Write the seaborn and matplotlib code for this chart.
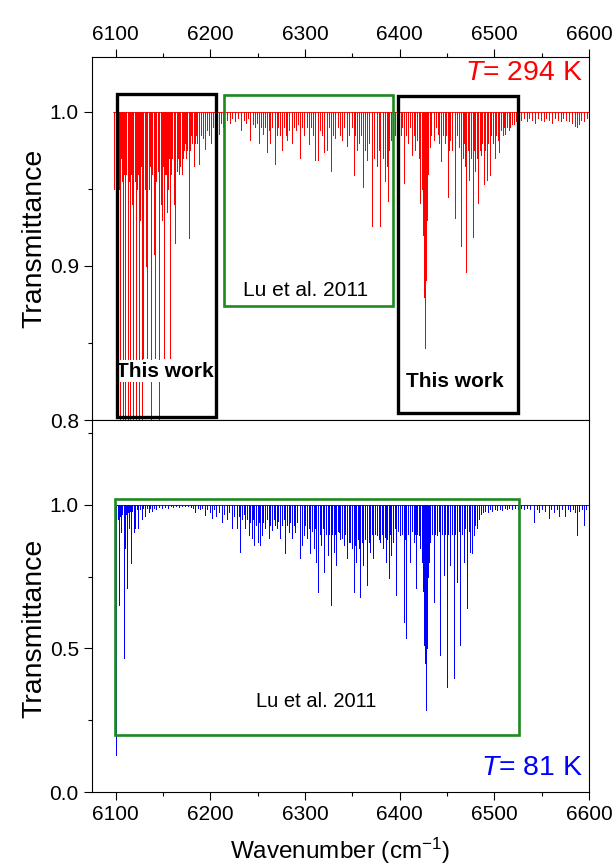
import numpy as np
import pandas as pd
import matplotlib
matplotlib.use("Agg")
import matplotlib.pyplot as plt
import seaborn as sns
from matplotlib.patches import Rectangle
from matplotlib.ticker import MultipleLocator, FormatStrFormatter

# ---------------- data ----------------
# T = 294 K : line centre (cm-1) and transmittance at line centre
wn_294 = [6098.0, 6101.2, 6102.2, 6103.2, 6104.1, 6105.3, 6106.3, 6107.3, 6108.1, 6108.9,
          6110.2, 6111.4, 6112.5, 6113.2, 6114.0, 6115.4, 6116.2, 6117.0, 6118.3, 6119.9,
          6120.6, 6121.4, 6122.7, 6123.5, 6124.2, 6126.0, 6126.9, 6127.8, 6128.6, 6129.3,
          6130.9, 6131.9, 6132.6, 6133.4, 6134.9, 6135.9, 6137.3, 6138.5, 6140.0, 6140.8,
          6141.6, 6143.1, 6144.4, 6146.1, 6147.5, 6148.2, 6148.7, 6149.8, 6150.8, 6152.3,
          6153.0, 6153.8, 6155.4, 6156.1, 6156.9, 6157.9, 6158.9, 6159.9, 6161.2, 6162.0,
          6163.1, 6164.6, 6165.6, 6166.5, 6167.3, 6168.2, 6170.0, 6171.2, 6172.3, 6173.3,
          6174.3, 6175.6, 6177.1, 6178.0, 6178.9, 6179.6, 6180.4, 6182.3, 6183.5, 6184.5,
          6186.4, 6188.3, 6190.2, 6192.2, 6194.7, 6196.8, 6198.9, 6200.9, 6203.0, 6205.0,
          6207.0, 6209.1, 6211.1, 6213.2,
          6217.3, 6220.3, 6223.4, 6226.5, 6229.5, 6232.4, 6235.2, 6237.7, 6239.8, 6242.2,
          6244.9, 6247.4, 6249.3, 6251.0, 6253.4, 6255.6, 6257.7, 6259.8, 6261.8, 6263.4,
          6265.6, 6267.9, 6269.9, 6272.0, 6273.8, 6275.7, 6277.8, 6279.5, 6281.0, 6283.6,
          6286.2, 6288.4, 6290.4, 6292.8, 6295.0, 6297.1, 6299.3, 6301.7, 6303.8, 6306.3,
          6308.6, 6310.9, 6313.3, 6315.5, 6317.8, 6320.4, 6323.2, 6325.5, 6327.8, 6329.8,
          6332.0, 6334.4, 6336.9, 6339.1, 6341.5, 6344.4, 6346.7, 6349.2, 6351.5, 6353.3,
          6354.9, 6357.4, 6359.2, 6361.3, 6363.5, 6365.6, 6368.1, 6370.8, 6373.3, 6376.1,
          6377.9, 6379.6, 6381.9, 6384.9, 6386.6, 6387.7, 6389.1, 6390.6, 6392.7, 6394.7,
          6396.8,
          6398.8, 6400.9, 6402.9, 6405.0, 6407.0, 6409.1, 6411.1, 6413.0, 6415.2, 6416.7,
          6418.4, 6420.1, 6421.8, 6423.4, 6424.4, 6425.4, 6426.4, 6427.9, 6429.0, 6430.2,
          6431.7, 6433.6, 6436.0, 6438.0, 6440.1, 6442.0, 6443.7, 6445.7, 6447.4, 6449.2,
          6451.1, 6452.5, 6453.5, 6455.8, 6458.1, 6460.2, 6462.3, 6464.8, 6466.8, 6467.7,
          6469.1, 6470.4, 6472.0, 6473.6, 6475.5, 6477.2, 6478.6, 6479.9, 6481.5, 6482.8,
          6484.4, 6486.0, 6487.3, 6488.7, 6490.6, 6492.3, 6493.7, 6495.1, 6497.0, 6498.8,
          6500.4, 6502.1, 6503.7, 6505.3, 6507.2, 6508.8, 6510.3, 6511.6, 6513.4, 6515.1,
          6517.0, 6518.8, 6520.4, 6522.6, 6524.6,
          6528.0, 6531.0, 6534.0, 6537.0, 6540.0, 6543.0, 6546.0, 6549.0, 6552.0, 6555.0,
          6558.0, 6561.0, 6564.0, 6567.0, 6570.0, 6573.0, 6576.0, 6579.0, 6582.0, 6585.0,
          6587.5, 6589.5, 6592.0, 6595.0, 6598.0]
tr_294 = [0.950, 0.930, 0.960, 0.950, 0.780, 0.970, 0.955, 0.780, 0.965, 0.960,
          0.780, 0.960, 0.780, 0.950, 0.955, 0.780, 0.960, 0.940, 0.780, 0.960,
          0.955, 0.780, 0.950, 0.960, 0.780, 0.930, 0.965, 0.780, 0.960, 0.840,
          0.950, 0.900, 0.955, 0.840, 0.950, 0.965, 0.780, 0.960, 0.908, 0.970,
          0.840, 0.955, 0.962, 0.780, 0.940, 0.960, 0.930, 0.965, 0.840, 0.960,
          0.960, 0.935, 0.950, 0.970, 0.840, 0.955, 0.960, 0.970, 0.940, 0.960,
          0.915, 0.962, 0.970, 0.960, 0.975, 0.965, 0.960, 0.970, 0.975, 0.980,
          0.970, 0.975, 0.918, 0.980, 0.975, 0.985, 0.980, 0.965, 0.980, 0.985,
          0.980, 0.966, 0.985, 0.983, 0.976, 0.988, 0.985, 0.980, 0.990, 0.985,
          0.990, 0.986, 0.993, 0.990,
          0.995, 0.993, 0.996, 0.994, 0.996, 0.988, 0.995, 0.993, 0.996, 0.982,
          0.992, 0.990, 0.993, 0.980, 0.990, 0.986, 0.990, 0.974, 0.988, 0.980,
          0.990, 0.966, 0.985, 0.990, 0.985, 0.975, 0.990, 0.985, 0.982, 0.988,
          0.980, 0.990, 0.988, 0.992, 0.970, 0.990, 0.985, 0.990, 0.979, 0.990,
          0.985, 0.969, 0.969, 0.988, 0.985, 0.974, 0.975, 0.990, 0.962, 0.985,
          0.983, 0.990, 0.985, 0.982, 0.990, 0.978, 0.985, 0.990, 0.959, 0.985,
          0.975, 0.980, 0.985, 0.951, 0.975, 0.969, 0.980, 0.926, 0.970, 0.965,
          0.975, 0.926, 0.970, 0.955, 0.965, 0.942, 0.975, 0.982, 0.975, 0.985,
          0.980,
          0.990, 0.985, 0.990, 0.954, 0.985, 0.980, 0.990, 0.972, 0.985, 0.975,
          0.982, 0.970, 0.941, 0.950, 0.920, 0.880, 0.847, 0.891, 0.930, 0.960,
          0.977, 0.985, 0.982, 0.990, 0.986, 0.980, 0.968, 0.985, 0.980, 0.985,
          0.945, 0.975, 0.982, 0.975, 0.931, 0.985, 0.977, 0.913, 0.970, 0.980,
          0.965, 0.896, 0.975, 0.956, 0.970, 0.919, 0.975, 0.962, 0.970, 0.941,
          0.975, 0.972, 0.980, 0.953, 0.975, 0.956, 0.980, 0.959, 0.985, 0.980,
          0.970, 0.985, 0.982, 0.974, 0.988, 0.985, 0.990, 0.986, 0.990, 0.988,
          0.990, 0.992, 0.992, 0.994, 0.993,
          0.995, 0.996, 0.994, 0.996, 0.995, 0.993, 0.996, 0.995, 0.994, 0.996,
          0.995, 0.993, 0.996, 0.995, 0.994, 0.996, 0.995, 0.994, 0.993, 0.991,
          0.990, 0.992, 0.995, 0.994, 0.996]

# T = 81 K
wn_81 = [6100.7, 6102.2, 6103.8, 6105.0, 6105.9, 6107.1, 6108.3, 6109.4, 6110.2, 6111.2,
         6112.2, 6113.4, 6114.4, 6115.2, 6116.1, 6117.5, 6118.9, 6120.7, 6122.2, 6123.6,
         6125.7, 6127.8, 6129.3, 6131.3, 6132.9, 6134.7, 6136.5, 6138.3, 6140.6, 6142.6,
         6145.7, 6148.7, 6151.8, 6154.9, 6158.0, 6161.0, 6164.1, 6167.2, 6170.2, 6173.3,
         6176.4, 6179.4, 6182.0, 6184.1, 6186.6, 6189.1, 6191.7, 6194.7, 6196.8, 6199.4,
         6201.7, 6204.0, 6206.5, 6209.1, 6212.4, 6214.7, 6217.3, 6219.8, 6222.9, 6225.5,
         6228.2, 6230.1, 6231.7, 6233.6, 6235.2, 6236.9, 6238.8, 6240.5, 6242.3, 6244.0,
         6245.2, 6246.4, 6248.5, 6250.3, 6251.5, 6252.8, 6254.5, 6256.1, 6258.1, 6259.7,
         6261.6, 6263.3, 6265.1, 6266.9, 6268.4, 6270.4, 6272.0, 6273.9, 6275.6, 6277.4,
         6279.3, 6281.0, 6282.7, 6284.6, 6286.3, 6288.1, 6289.8, 6291.9, 6294.4, 6296.8,
         6298.6, 6300.3, 6302.2, 6303.9, 6305.6, 6307.3, 6309.1, 6310.6, 6312.0, 6313.7,
         6315.5, 6316.9, 6318.5, 6320.4, 6322.1, 6324.0, 6325.7, 6327.4, 6328.8, 6330.3,
         6331.8, 6333.1, 6334.4, 6335.5, 6337.2, 6339.1, 6341.0, 6342.6, 6344.4, 6346.1,
         6347.9, 6349.7, 6351.5, 6352.8, 6354.2, 6355.9, 6357.4, 6358.4, 6360.0, 6361.3,
         6363.3, 6365.5, 6367.1, 6369.1, 6370.5, 6371.8, 6373.8, 6376.1, 6377.9, 6379.6,
         6380.9, 6382.5, 6384.0, 6385.9, 6387.1, 6388.4, 6389.6, 6390.8, 6393.0, 6394.7,
         6396.5, 6398.3, 6400.8, 6402.4, 6404.2, 6405.7, 6407.1, 6409.1, 6411.3, 6413.1,
         6414.8, 6416.2, 6417.6, 6418.8, 6420.1, 6421.8, 6423.7, 6424.7, 6425.4, 6426.0,
         6426.9, 6427.9, 6428.8, 6429.7, 6430.6, 6432.4, 6434.1, 6436.0, 6437.7, 6439.5,
         6441.3, 6443.0, 6444.9, 6446.5, 6448.4, 6450.1, 6451.5, 6452.8, 6455.1, 6457.0,
         6458.7, 6460.6, 6462.2, 6464.1, 6465.8, 6467.7, 6469.4, 6471.2, 6473.0, 6474.7,
         6476.5, 6478.3, 6480.1, 6481.8, 6483.7, 6485.8, 6487.8, 6490.4, 6492.9, 6495.5,
         6498.0, 6500.6, 6503.2, 6505.7, 6508.3, 6510.8, 6513.4, 6515.9, 6519.0, 6522.1,
         6525.1, 6528.2, 6531.3, 6534.3, 6537.4, 6541.5, 6544.6, 6547.6, 6550.7, 6553.8,
         6557.5, 6559.9, 6563.0, 6566.1, 6568.1, 6571.2, 6574.2, 6577.3, 6580.4, 6583.4,
         6585.5, 6587.5, 6589.6, 6592.1, 6594.4, 6596.7, 6599.8]
tr_81 = [0.129, 0.950, 0.652, 0.960, 0.907, 0.970, 0.466, 0.975, 0.849, 0.970,
         0.710, 0.975, 0.919, 0.980, 0.797, 0.980, 0.907, 0.919, 0.985, 0.919,
         0.985, 0.950, 0.990, 0.960, 0.990, 0.975, 0.990, 0.980, 0.990, 0.985,
         0.992, 0.988, 0.994, 0.990, 0.995, 0.993, 0.996, 0.994, 0.996, 0.995,
         0.996, 0.994, 0.990, 0.977, 0.990, 0.985, 0.990, 0.965, 0.985, 0.975,
         0.954, 0.985, 0.960, 0.975, 0.942, 0.970, 0.950, 0.975, 0.919, 0.960,
         0.919, 0.960, 0.837, 0.950, 0.970, 0.919, 0.950, 0.895, 0.940, 0.884,
         0.950, 0.861, 0.930, 0.872, 0.940, 0.861, 0.895, 0.940, 0.919, 0.950,
         0.884, 0.930, 0.913, 0.950, 0.930, 0.919, 0.945, 0.884, 0.930, 0.950,
         0.832, 0.930, 0.907, 0.940, 0.884, 0.930, 0.907, 0.940, 0.814, 0.861,
         0.895, 0.930, 0.884, 0.920, 0.832, 0.910, 0.849, 0.920, 0.803, 0.698,
         0.900, 0.861, 0.920, 0.768, 0.900, 0.826, 0.900, 0.652, 0.900, 0.837,
         0.900, 0.791, 0.910, 0.907, 0.880, 0.884, 0.860, 0.900, 0.814, 0.870,
         0.872, 0.850, 0.698, 0.860, 0.803, 0.880, 0.850, 0.681, 0.870, 0.791,
         0.880, 0.721, 0.870, 0.837, 0.900, 0.814, 0.900, 0.895, 0.880, 0.872,
         0.900, 0.849, 0.890, 0.803, 0.880, 0.745, 0.900, 0.826, 0.872, 0.920,
         0.687, 0.910, 0.895, 0.900, 0.594, 0.880, 0.536, 0.900, 0.803, 0.910,
         0.872, 0.900, 0.710, 0.900, 0.895, 0.850, 0.803, 0.700, 0.600, 0.512,
         0.450, 0.286, 0.500, 0.750, 0.803, 0.872, 0.900, 0.663, 0.900, 0.895,
         0.910, 0.477, 0.900, 0.756, 0.900, 0.367, 0.900, 0.791, 0.900, 0.396,
         0.900, 0.733, 0.910, 0.512, 0.900, 0.803, 0.920, 0.640, 0.910, 0.837,
         0.833, 0.895, 0.930, 0.919, 0.950, 0.970, 0.975, 0.980, 0.975, 0.985,
         0.980, 0.985, 0.982, 0.985, 0.983, 0.988, 0.985, 0.990, 0.985, 0.990,
         0.987, 0.990, 0.985, 0.990, 0.985, 0.942, 0.985, 0.975, 0.985, 0.980,
         0.954, 0.985, 0.975, 0.985, 0.960, 0.985, 0.960, 0.985, 0.980, 0.985,
         0.975, 0.895, 0.980, 0.985, 0.930, 0.985, 0.980]

x_ticks = [6100, 6200, 6300, 6400, 6500, 6600]
y_ticks_294 = [0.8, 0.9, 1.0]
y_ticks_81 = [0.0, 0.5, 1.0]
temp_labels = ["$T$= 294 K", "$T$= 81 K"]


def stick_frame(wn, tr, start):
    """Stick spectrum polyline: baseline 1.0, dip to the line-centre value."""
    order = np.argsort(wn)
    xs, ys = [start], [1.0]
    for i in order:
        xs += [wn[i], wn[i], wn[i]]
        ys += [1.0, tr[i], 1.0]
    xs.append(6600.0)
    ys.append(1.0)
    return pd.DataFrame({"wn": xs, "T": ys})


sns.set_theme(style="ticks")
plt.rcParams["font.family"] = ["Liberation Sans", "DejaVu Sans"]
plt.rcParams["mathtext.fontset"] = "custom"
plt.rcParams["mathtext.rm"] = "Liberation Sans"
plt.rcParams["mathtext.it"] = "Liberation Sans:italic"
plt.rcParams["axes.linewidth"] = 0.8
plt.rcParams["text.color"] = "black"
plt.rcParams["axes.labelcolor"] = "black"
plt.rcParams["xtick.color"] = "black"
plt.rcParams["ytick.color"] = "black"

fig = plt.figure(figsize=(6.13, 8.64), dpi=100)
W, H = 613.0, 864.0
L, R, TOP, MID, BOT = 92, 589, 57, 420, 792
ax1 = fig.add_axes([L / W, 1 - MID / H, (R - L) / W, (MID - TOP) / H])
ax2 = fig.add_axes([L / W, 1 - BOT / H, (R - L) / W, (BOT - MID) / H])

green = "#1e8a1e"
tick_fs = 15
label_fs = 20.5

df294 = stick_frame(wn_294, tr_294, 6097.0)
df81 = stick_frame(wn_81, tr_81, 6099.5)
sns.lineplot(data=df294, x="wn", y="T", ax=ax1, sort=False, estimator=None,
             color="#ff0000", linewidth=0.65, legend=False)
sns.lineplot(data=df81, x="wn", y="T", ax=ax2, sort=False, estimator=None,
             color="#0000ff", linewidth=0.65, legend=False)

for ax in (ax1, ax2):
    ax.set_xlim(6075, 6600)
    ax.set_xticks(x_ticks)
    ax.xaxis.set_minor_locator(MultipleLocator(50))
    ax.tick_params(axis="both", which="major", direction="out", length=6, width=0.8,
                   labelsize=tick_fs, colors="black")
    ax.tick_params(axis="both", which="minor", direction="out", length=3.2, width=0.8,
                   colors="black")
    ax.tick_params(axis="y", right=False)
    for s in ax.spines.values():
        s.set_color("black")
        s.set_linewidth(0.8)

ax1.set_ylabel("Transmittance", fontsize=label_fs, color="black")
ax1.yaxis.set_label_coords(-0.0905, 0.50)
ax2.set_ylabel("Transmittance", fontsize=label_fs, color="black")
ax2.yaxis.set_label_coords(-0.0905, 0.441)

ax1.set_ylim(0.8, 1.0357)
ax1.set_yticks(y_ticks_294)
ax1.yaxis.set_minor_locator(MultipleLocator(0.05))
ax1.yaxis.set_major_formatter(FormatStrFormatter("%.1f"))
ax1.xaxis.tick_top()
ax1.tick_params(axis="x", which="both", top=True, bottom=False, labeltop=True, labelbottom=False)
ax1.set_xlabel("")

ax2.set_ylim(0.0, 1.296)
ax2.set_yticks(y_ticks_81)
ax2.yaxis.set_minor_locator(MultipleLocator(0.25))
ax2.yaxis.set_major_formatter(FormatStrFormatter("%.1f"))
ax2.tick_params(axis="x", which="both", top=False, bottom=True)
ax2.set_xlabel("Wavenumber (cm$^{-1}$)", fontsize=17.5, labelpad=8, color="black")

# annotation boxes
ax1.add_patch(Rectangle((6101.4, 0.802), 6206.3 - 6101.4, 1.0117 - 0.802, fill=False,
                        edgecolor="black", linewidth=2.4, zorder=5))
ax1.add_patch(Rectangle((6214.0, 0.874), 6392.6 - 6214.0, 1.011 - 0.874, fill=False,
                        edgecolor=green, linewidth=1.9, zorder=5))
ax1.add_patch(Rectangle((6398.3, 0.8045), 6525.1 - 6398.3, 1.0104 - 0.8045, fill=False,
                        edgecolor="black", linewidth=2.4, zorder=5))
ax2.add_patch(Rectangle((6098.8, 0.199), 6526.5 - 6098.8, 1.021 - 0.199, fill=False,
                        edgecolor=green, linewidth=1.9, zorder=5))

bb = dict(facecolor="white", edgecolor="none", pad=1.0)
ax1.text(6151.9, 0.8318, "This work", fontsize=15, fontweight="bold", ha="center",
         va="center", bbox=bb, zorder=4, color="black")
ax1.text(6457.8, 0.8247, "This work", fontsize=15, fontweight="bold", ha="center",
         va="center", bbox=bb, zorder=4, color="black")
ax1.text(6300.3, 0.8844, "Lu et al. 2011", fontsize=15, ha="center", va="center",
         zorder=4, color="black")
ax2.text(6312.0, 0.3136, "Lu et al. 2011", fontsize=14.5, ha="center", va="center",
         zorder=4, color="black")

ax1.text(0.988, 0.955, temp_labels[0], transform=ax1.transAxes, fontsize=20.4,
         color="#ff0000", ha="right", va="center")
ax2.text(0.988, 0.0645, temp_labels[1], transform=ax2.transAxes, fontsize=20.4,
         color="#0000ff", ha="right", va="center")

fig.savefig("out.png", dpi=100)
